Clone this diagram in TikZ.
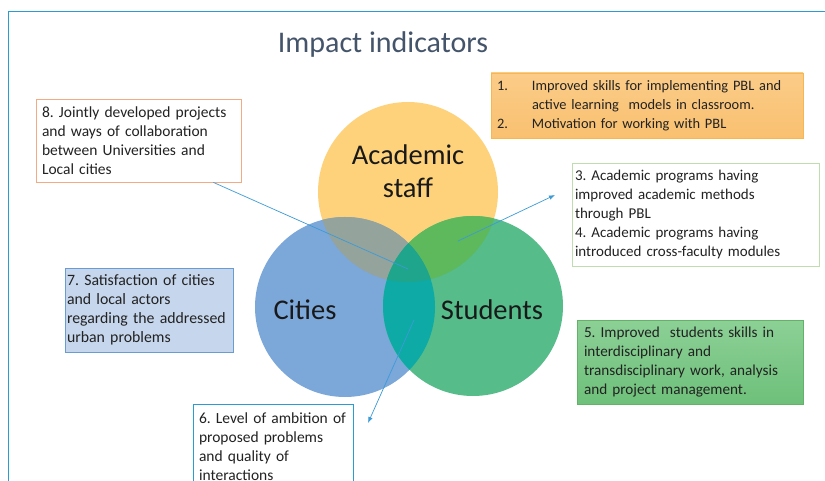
\documentclass[tikz,border=0pt]{standalone}
\usepackage{fontspec}
\setmainfont{Carlito}
\usetikzlibrary{arrows.meta}

\definecolor{framecol}{HTML}{2A9BD3}
\definecolor{titlecol}{HTML}{44546A}
\definecolor{textcol}{HTML}{222222}
\definecolor{staffcol}{HTML}{FDD27B}
\definecolor{citycol}{HTML}{7CA7D9}
\definecolor{studcol}{HTML}{55BC8A}
\definecolor{staffcitycol}{HTML}{94A39B}
\definecolor{staffstudcol}{HTML}{5EB85C}
\definecolor{citystudcol}{HTML}{0DAAA6}
\definecolor{allcol}{HTML}{1EA58C}
\definecolor{pointercol}{HTML}{3D9BD6}

\tikzset{
  infobox/.style={draw,line width=0.8pt,inner xsep=6pt,inner ysep=0pt,align=left,
    text=textcol,font=\fontsize{15.5}{19}\selectfont},
  circletext/.style={text=black!90,font=\fontsize{28.5}{33}\selectfont,align=center},
  pointer/.style={pointercol,line width=0.7pt}
}

\begin{document}
\frenchspacing
\begin{tikzpicture}[x=1pt,y=-1pt]
   \clip (0,0) rectangle (825,481);
   \fill [white] (0,0) rectangle (825,481);
   \draw [framecol,line width=1pt] (8,490) -- (8,12) -- (830,12);

   \node [text=titlecol,font=\fontsize{30}{36}\selectfont] (title) at (383,45) {Impact indicators};

   % the three circles and their overlaps
   \fill [staffcol] (408,192) circle (90pt);
   \fill [citycol] (345,307) circle (90pt);
   \fill [studcol] (473,306) circle (90pt);
   \begin{scope}
      \clip (408,192) circle (90pt);
      \fill [staffcitycol] (345,307) circle (90pt);
      \fill [staffstudcol] (473,306) circle (90pt);
   \end{scope}
   \begin{scope}
      \clip (345,307) circle (90pt);
      \fill [citystudcol] (473,306) circle (90pt);
      \clip (408,192) circle (90pt);
      \fill [allcol] (473,306) circle (90pt);
   \end{scope}

   \node [circletext] (staff) at (408,171) {Academic\\staff};
   \node [circletext] (cities) at (305,310) {Cities};
   \node [circletext] (students) at (492,310) {Students};

   % indicator boxes
   \node [infobox,draw={rgb,255:red,244;green,170;blue,130},fill=white,minimum width=205pt,minimum height=83pt,text width=193pt]
      (b8) at (138.5,140.5) {8. Jointly developed projects\\and ways of collaboration\\between Universities and\\Local cities};
   \node [infobox,draw={rgb,255:red,246;green,184;blue,78},top color={rgb,255:red,251;green,204;blue,136},
      bottom color={rgb,255:red,249;green,192;blue,112},minimum width=312pt,minimum height=65pt,text width=300pt,
      font=\fontsize{14.4}{19}\selectfont]
      (b12) at (647,105.5) {\makebox[35pt][l]{1.}Improved skills for implementing PBL and\\
         \hspace*{35pt}active learning\ \ models in classroom.\\
         \makebox[35pt][l]{2.}Motivation for working with PBL};
   \node [infobox,draw={rgb,255:red,190;green,222;blue,176},fill=white,inner xsep=3pt,minimum width=247pt,
      minimum height=103pt,text width=241pt,font=\fontsize{15}{19}\selectfont]
      (b34) at (695.5,214.5) {3. Academic programs having\\improved academic methods\\through PBL\\4. Academic programs having\\introduced cross-faculty modules};
   \node [infobox,draw={rgb,255:red,106;green,155;blue,209},fill={rgb,255:red,198;green,214;blue,236},inner xsep=2pt,
      minimum width=168pt,minimum height=84pt,text width=164pt,font=\fontsize{15.8}{19}\selectfont]
      (b7) at (149,310) {7. Satisfaction of cities\\and local actors\\regarding the addressed\\urban problems};
   \node [infobox,draw={rgb,255:red,98;green,178;blue,104},top color={rgb,255:red,140;green,208;blue,150},
      bottom color={rgb,255:red,110;green,192;blue,122},inner xsep=7pt,minimum width=226pt,minimum height=84pt,
      text width=212pt,font=\fontsize{15.2}{19}\selectfont]
      (b5) at (690,362) {5. Improved\ \ students skills in\\interdisciplinary and\\transdisciplinary work, analysis\\and project management.};
   \node [infobox,draw=framecol,fill=white,minimum width=160pt,minimum height=86pt,text width=148pt]
      (b6) at (273,447) {6. Level of ambition of\\proposed problems\\and quality of\\interactions};

   % pointers into the overlaps
   \coordinate (mid) at (408,269);
   \coordinate (p34) at (458,241);
   \coordinate (tip34) at (555,195);
   \coordinate (p6) at (414,320);
   \coordinate (tip6) at (368,423);
   \draw [pointer] ([xshift=-28pt]b8.south east) -- (mid);
   \draw [pointer,-{Latex[length=6pt,width=4.5pt]}] (p34) -- (tip34);
   \draw [pointer,-{Latex[length=6pt,width=4.5pt]}] (p6) -- (tip6);
\end{tikzpicture}
\end{document}
